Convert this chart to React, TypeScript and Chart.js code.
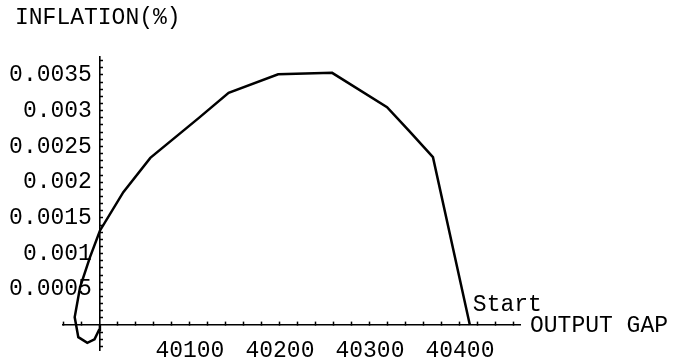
import React, { useEffect, useRef } from "react";
import { Chart, registerables } from "chart.js";

Chart.register(...registerables);

// Trajectory from "Start" spiralling into the origin
const outputGap = [40411, 40370, 40344, 40319, 40258, 40198, 40143, 40110, 40056, 40026, 40000, 39989, 39978, 39972, 39976, 39986, 39994, 39999, 40000];
const inflation = [0, 0.00235, 0.00271, 0.00305, 0.00353, 0.00351, 0.00325, 0.0029, 0.00234, 0.00186, 0.00132, 0.00095, 0.00053, 0.00011, -0.00017, -0.00025, -0.0002, -0.00007, 0];

const xMajorTicks = [40100, 40200, 40300, 40400];
const xTickLabels = ["40100", "40200", "40300", "40400"];
const yMajorTicks = [0.0005, 0.001, 0.0015, 0.002, 0.0025, 0.003, 0.0035];
const yTickLabels = ["0.0005", "0.001", "0.0015", "0.002", "0.0025", "0.003", "0.0035"];

const xTitle = "OUTPUT GAP";
const yTitle = "INFLATION(%)";
const startLabel = "Start";

const FONT_FAMILY = "'Liberation Mono', 'Courier New', monospace";
const FONT_SIZE = 23;
const Y_LABEL_GAP = 8;

function minorTicks(from: number, to: number, step: number): number[] {
  const out: number[] = [];
  const n = Math.round((to - from) / step);
  for (let i = 0; i <= n; i++) out.push(+(from + i * step).toFixed(6));
  return out;
}

const textPlugin = {
  id: "textPlugin",
  afterDraw(chart: any) {
    const ctx = chart.ctx;
    const xs = chart.scales.x;
    const ys = chart.scales.y;
    const y0 = ys.getPixelForValue(0);
    ctx.save();
    ctx.font = `${FONT_SIZE}px ${FONT_FAMILY}`;
    ctx.fillStyle = "#000";
    ctx.textBaseline = "alphabetic";
    ctx.textAlign = "left";
    ctx.fillText(yTitle, 15, 24);
    ctx.fillText(xTitle, xs.right + 10, y0 + 7);
    ctx.fillText(startLabel, xs.getPixelForValue(outputGap[0]) + 3, y0 - 14);
    ctx.restore();
  },
};

export default function App() {
  const ref = useRef<HTMLCanvasElement>(null);
  useEffect(() => {
    document.body.style.margin = "0";
    const canvas = ref.current!;
    const data = outputGap.map((x, i) => ({ x, y: inflation[i] }));
    const xTickValues = minorTicks(39960, 40460, 20).filter((v) => v !== 40000);
    const yTickValues = minorTicks(-0.0003, 0.0037, 0.0001).filter((v) => Math.abs(v) > 1e-9);
    const zeroPadding = (s: any) => {
      s.paddingLeft = 0;
      s.paddingRight = 0;
      s.paddingTop = 0;
      s.paddingBottom = 0;
    };
    const chart = new Chart(canvas, {
      type: "scatter",
      data: {
        datasets: [
          {
            data,
            showLine: true,
            borderColor: "#000",
            borderWidth: 2.5,
            pointRadius: 0,
            tension: 0,
            fill: false,
          },
        ],
      },
      plugins: [textPlugin],
      options: {
        animation: false,
        responsive: false,
        events: [],
        layout: { padding: { left: 63, right: 154, top: 57, bottom: 14 } },
        plugins: { legend: { display: false }, tooltip: { enabled: false } },
        scales: {
          x: {
            type: "linear",
            position: { y: 0 } as any,
            min: 39959,
            max: 40466.7,
            afterBuildTicks: (s: any) => {
              s.ticks = xTickValues.map((v) => ({ value: v }));
            },
            afterFit: zeroPadding,
            border: { display: true, color: "#000", width: 1.6 },
            grid: { drawOnChartArea: false, drawTicks: true, tickLength: -4, color: "#000", tickColor: "#000", tickWidth: 1.5 },
            ticks: {
              autoSkip: false,
              maxRotation: 0,
              padding: 16,
              color: "#000",
              font: { family: FONT_FAMILY, size: FONT_SIZE },
              callback: (v: any) => {
                const i = xMajorTicks.findIndex((m) => Math.abs(m - Number(v)) < 1e-6);
                return i >= 0 ? xTickLabels[i] : "";
              },
            },
          },
          y: {
            type: "linear",
            position: { x: 40000 } as any,
            min: -0.00035,
            max: 0.003752,
            afterBuildTicks: (s: any) => {
              s.ticks = yTickValues.map((v) => ({ value: v }));
            },
            afterFit: zeroPadding,
            afterUpdate: (s: any) => {
              if (s.__patched) return;
              s.__patched = true;
              const orig = s._computeLabelItems;
              s._computeLabelItems = function (ca: any) {
                const items = orig.call(this, ca);
                const axisX = this.chart.scales.x.getPixelForValue(40000);
                items.forEach((it: any) => {
                  if (it.options && it.options.translation) it.options.translation[0] = axisX - Y_LABEL_GAP;
                });
                return items;
              };
              s._labelItems = null;
            },
            border: { display: true, color: "#000", width: 1.6 },
            grid: { drawOnChartArea: false, drawTicks: true, tickLength: -4, color: "#000", tickColor: "#000", tickWidth: 1.5 },
            ticks: {
              autoSkip: false,
              padding: 12,
              color: "#000",
              font: { family: FONT_FAMILY, size: FONT_SIZE },
              callback: (v: any) => {
                const i = yMajorTicks.findIndex((m) => Math.abs(m - Number(v)) < 1e-9);
                return i >= 0 ? yTickLabels[i] : "";
              },
            },
          },
        },
      },
    });
    return () => chart.destroy();
  }, []);
  return (
    <div style={{ position: "absolute", left: 0, top: 0, width: 674, height: 364, background: "#fff" }}>
      <canvas ref={ref} width={674} height={364} style={{ display: "block" }} />
    </div>
  );
}
